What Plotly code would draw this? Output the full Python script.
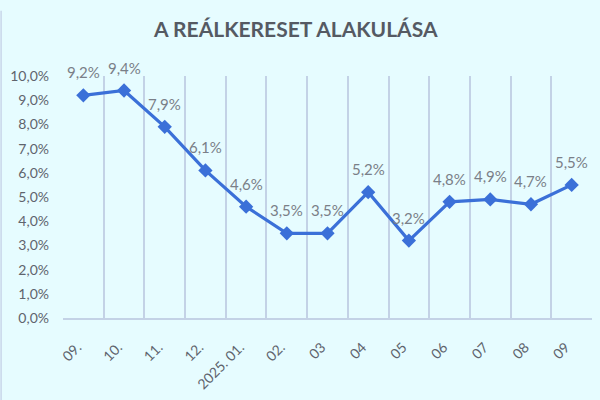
import plotly.graph_objects as go

categories = ["09.", "10.", "11.", "12.", "2025. 01.", "02.", "03", "04", "05", "06", "07", "08", "09"]
values = [9.2, 9.4, 7.9, 6.1, 4.6, 3.5, 3.5, 5.2, 3.2, 4.8, 4.9, 4.7, 5.5]
y_ticks = [0, 1, 2, 3, 4, 5, 6, 7, 8, 9, 10]
y_tick_labels = ["0,0%", "1,0%", "2,0%", "3,0%", "4,0%", "5,0%", "6,0%", "7,0%", "8,0%", "9,0%", "10,0%"]

bg = "#E6FCFF"
grid = "#C3D2E6"
line_color = "#3B70D8"

fig = go.Figure()
fig.add_trace(go.Scatter(
    x=categories, y=values, mode="lines+markers",
    line=dict(color=line_color, width=3.2),
    marker=dict(symbol="diamond", size=11, color=line_color),
    cliponaxis=False, showlegend=False, hoverinfo="skip",
))

annotations = [
    dict(x=i, y=v, xref="x", yref="y", text=f"{v:.1f}%".replace(".", ","),
         showarrow=False, yshift=23, yanchor="middle",
         font=dict(family="Lato", size=15, color="#7A7F88"))
    for i, v in enumerate(values)
]

fig.update_layout(
    width=600, height=400,
    paper_bgcolor=bg, plot_bgcolor=bg,
    margin=dict(l=63, r=8, t=76, b=82),
    title=dict(text="<b>A REÁLKERESET ALAKULÁSA</b>", x=0.493, xanchor="center",
               y=0.925, yanchor="middle",
               font=dict(family="Lato", size=21, color="#555A63")),
    xaxis=dict(type="category", tickson="boundaries", showgrid=True, gridcolor=grid, gridwidth=1.5,
               showline=True, linecolor=grid, linewidth=1.5, ticks="", tickangle=-45,
               tickfont=dict(family="Lato", size=14, color="#5F646D"),
               ticklabelstandoff=14, ticklabelshift=-6, range=[-0.5, 12.5]),
    yaxis=dict(range=[0, 10], tickvals=y_ticks, ticktext=y_tick_labels,
               showgrid=False, zeroline=False, showline=False,
               tickfont=dict(family="Lato", size=14, color="#5F646D"),
               ticklabelstandoff=13),
    annotations=annotations,
    shapes=[dict(type="line", xref="paper", yref="paper", x0=-0.117, x1=-0.117, y0=-0.35, y1=1.27,
                 line=dict(color="#C9D6EA", width=1.5))],
)

fig.write_html("out.html", config={"displayModeBar": False},
               post_script="document.body.style.margin='0';document.body.style.background='#E6FCFF';")
